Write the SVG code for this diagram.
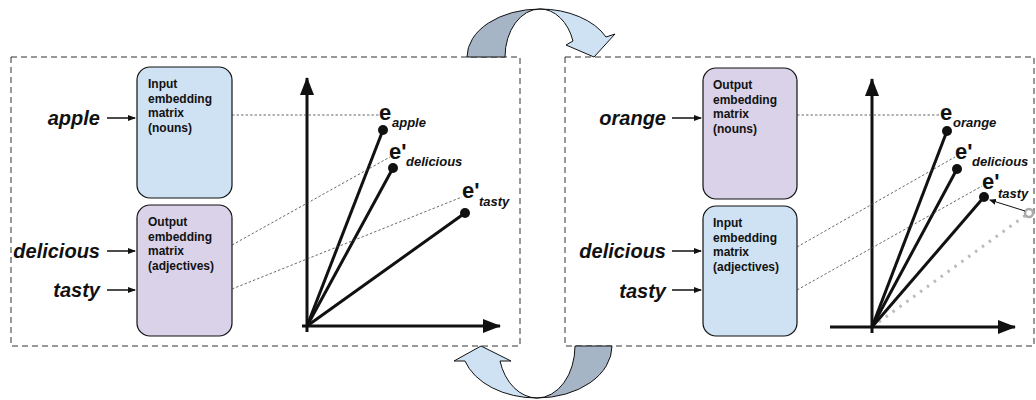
<svg xmlns="http://www.w3.org/2000/svg" width="1036" height="400" viewBox="0 0 1036 400">
<style>
.frame{fill:none;stroke:#333;stroke-width:1;stroke-dasharray:6 4}
.blue{fill:#cfe2f3;stroke:#111;stroke-width:1.2}
.purple{fill:#d9d2e9;stroke:#111;stroke-width:1.2}
.btxt{font-family:"Liberation Sans",Arial,sans-serif;font-size:12px;font-weight:bold;fill:#111}
.word{font-family:"Liberation Sans",Arial,sans-serif;font-size:20px;font-weight:bold;font-style:italic;fill:#111}
.ev{font-family:"Liberation Sans",Arial,sans-serif;font-size:22px;font-weight:bold;fill:#111}
.sub{font-family:"Liberation Sans",Arial,sans-serif;font-size:13px;font-weight:bold;font-style:italic;fill:#111}
.inarrow{stroke:#111;stroke-width:1.5;fill:none;marker-end:url(#sm)}
.axis{stroke:#111;stroke-width:3;fill:none;marker-end:url(#big)}
.vec{stroke:#111;stroke-width:3;fill:none}
.proj{stroke:#444;stroke-width:0.8;stroke-dasharray:2.5 2;fill:none}
.dark{fill:#a6b5c6;stroke:#111;stroke-width:1}
.light{fill:#cfe2f3;stroke:#111;stroke-width:1}
</style>
<defs>
<marker id="sm" markerWidth="8" markerHeight="6" refX="7" refY="3" orient="auto" markerUnits="userSpaceOnUse">
<path d="M0,0 L8,3 L0,6 Z" fill="#111"/>
</marker>
<marker id="big" markerWidth="18" markerHeight="14" refX="17" refY="7" orient="auto" markerUnits="userSpaceOnUse">
<path d="M0,0 L18,7 L0,14 Z" fill="#111"/>
</marker>
<marker id="tiny" markerWidth="7" markerHeight="6" refX="6" refY="3" orient="auto" markerUnits="userSpaceOnUse">
<path d="M0,0 L7,3 L0,6 Z" fill="#111"/>
</marker>
</defs>

<g id="frames">
<rect class="frame" x="11" y="57" width="509" height="289"/>
<rect class="frame" x="565" y="57" width="469" height="289"/>
</g>

<g id="swap-arrow-top">
<path class="dark" d="M467,57 A73,48 0 0 1 540,9 A35,48 0 0 0 505,57 Z"/>
<path class="light" d="M540,9 A73,48 0 0 1 606,37 L615,34 L594,57 L566,45 L573,41 A35,48 0 0 0 540,9 Z"/>
</g>

<g id="swap-arrow-bottom">
<path class="dark" d="M612,346 A75,52 0 0 1 537,398 A38,52 0 0 0 575,346 Z"/>
<path class="light" d="M537,398 A75,52 0 0 1 465,361 L454,361 L481,346 L511,361 L500,361 A39,52 0 0 0 537,398 Z"/>
</g>

<!-- Left panel -->
<g id="left-input-matrix">
<rect class="blue" x="137" y="67" width="95" height="131" rx="13"/>
<text class="btxt" x="148" y="88">Input</text>
<text class="btxt" x="148" y="103">embedding</text>
<text class="btxt" x="148" y="117">matrix</text>
<text class="btxt" x="148" y="132">(nouns)</text>
</g>
<g id="left-output-matrix">
<rect class="purple" x="137" y="205" width="95" height="131" rx="13"/>
<text class="btxt" x="148" y="226">Output</text>
<text class="btxt" x="148" y="241">embedding</text>
<text class="btxt" x="148" y="255">matrix</text>
<text class="btxt" x="148" y="270">(adjectives)</text>
</g>
<g id="left-words">
<text class="word" x="100" y="125" text-anchor="end">apple</text>
<text class="word" x="100" y="258" text-anchor="end">delicious</text>
<text class="word" x="100" y="297" text-anchor="end">tasty</text>
</g>

<g id="left-graph">
<line class="axis" x1="307" y1="332" x2="307" y2="78"/>
<line class="axis" x1="302" y1="326" x2="500" y2="326"/>
<line class="vec" x1="307" y1="326" x2="383" y2="130"/>
<line class="vec" x1="307" y1="326" x2="393" y2="168"/>
<line class="vec" x1="307" y1="326" x2="465" y2="213"/>
<circle cx="383" cy="130" r="5" fill="#111"/>
<circle cx="393" cy="168" r="5" fill="#111"/>
<circle cx="465" cy="213" r="5" fill="#111"/>
<text class="ev" x="379" y="120">e</text><text class="sub" x="392" y="127">apple</text>
<text class="ev" x="389" y="159">e'</text><text class="sub" x="406" y="166">delicious</text>
<text class="ev" x="462" y="198">e'</text><text class="sub" x="479" y="206">tasty</text>
</g>

<!-- Right panel -->
<g id="right-output-matrix">
<rect class="purple" x="703" y="68" width="94" height="131" rx="13"/>
<text class="btxt" x="713" y="89">Output</text>
<text class="btxt" x="713" y="104">embedding</text>
<text class="btxt" x="713" y="118">matrix</text>
<text class="btxt" x="713" y="133">(nouns)</text>
</g>
<g id="right-input-matrix">
<rect class="blue" x="703" y="206" width="94" height="130" rx="13"/>
<text class="btxt" x="713" y="227">Input</text>
<text class="btxt" x="713" y="242">embedding</text>
<text class="btxt" x="713" y="256">matrix</text>
<text class="btxt" x="713" y="271">(adjectives)</text>
</g>
<g id="right-words">
<text class="word" x="666" y="125" text-anchor="end">orange</text>
<text class="word" x="666" y="258" text-anchor="end">delicious</text>
<text class="word" x="666" y="298" text-anchor="end">tasty</text>
</g>

<g id="right-graph">
<line x1="872" y1="327" x2="1026" y2="215" stroke="#bbb" stroke-width="3" stroke-dasharray="2.5 6"/>
<circle cx="1029" cy="213" r="4" fill="#fff" stroke="#aaa" stroke-width="2.5"/>
<line class="axis" x1="872" y1="333" x2="872" y2="79"/>
<line class="axis" x1="830" y1="327" x2="1015" y2="327"/>
<line class="vec" x1="872" y1="327" x2="947" y2="131"/>
<line class="vec" x1="872" y1="327" x2="957" y2="169"/>
<line class="vec" x1="872" y1="327" x2="984" y2="197"/>
<circle cx="947" cy="131" r="5" fill="#111"/>
<circle cx="957" cy="169" r="5" fill="#111"/>
<circle cx="984" cy="197" r="5" fill="#111"/>
<line x1="1025" y1="211" x2="990" y2="200" stroke="#111" stroke-width="1" marker-end="url(#tiny)"/>
<text class="ev" x="940" y="120">e</text><text class="sub" x="953" y="127">orange</text>
<text class="ev" x="955" y="159">e'</text><text class="sub" x="972" y="166">delicious</text>
<text class="ev" x="982" y="189">e'</text><text class="sub" x="998" y="198">tasty</text>
</g>

<g id="connectors">
<line class="inarrow" x1="107" y1="118" x2="135" y2="118"/>
<line class="inarrow" x1="107" y1="251" x2="135" y2="251"/>
<line class="inarrow" x1="107" y1="290" x2="135" y2="290"/>
<line class="inarrow" x1="672" y1="118" x2="701" y2="118"/>
<line class="inarrow" x1="672" y1="251" x2="701" y2="251"/>
<line class="inarrow" x1="672" y1="290" x2="701" y2="290"/>
<line class="proj" x1="232" y1="115" x2="379" y2="115"/>
<line class="proj" x1="232" y1="245" x2="390" y2="157"/>
<line class="proj" x1="232" y1="289" x2="462" y2="197"/>
<line class="proj" x1="797" y1="115" x2="940" y2="115"/>
<line class="proj" x1="797" y1="247" x2="955" y2="157"/>
<line class="proj" x1="797" y1="290" x2="982" y2="186"/>
</g>
</svg>
